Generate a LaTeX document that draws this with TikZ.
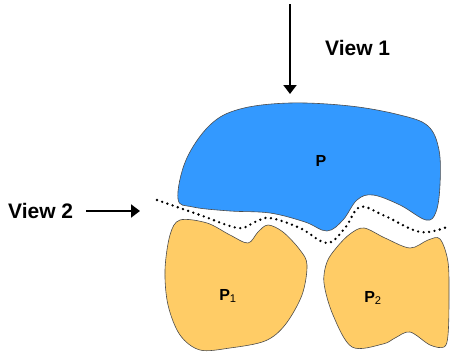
\documentclass[tikz,border=0pt]{standalone}
\usepackage{fontspec}
\usetikzlibrary{arrows.meta}
\setmainfont{Liberation Sans}
\begin{document}
\begin{tikzpicture}[x=1pt,y=-1pt,
  shapeline/.style={draw=black!70,line width=0.6pt},
  lbl/.style={font=\bfseries\fontsize{16}{18}\selectfont,inner sep=0pt},
  viewlbl/.style={font=\bfseries\fontsize{21}{24}\selectfont,inner sep=0pt},
  viewarrow/.style={-{Triangle[width=13pt,length=9pt]},line width=2pt},
  dotline/.style={line width=2.6pt,line cap=round,dash pattern=on 0pt off 5.5pt}]
\useasboundingbox (0,0) rectangle (451,356);
% blue P
\draw[shapeline,fill={rgb,255:red,51;green,153;blue,255}]
  plot[smooth cycle,tension=0.6] coordinates {
  (178,199) (186,160) (210,125) (240,109) (290,103) (350,106) (400,115) (428,126)
  (439,150) (440,185) (436,212) (426,220) (400,205) (373,195) (357,200)
  (343,220) (327,231) (305,222) (270,213) (230,211) (193,207)};
% orange P1
\draw[shapeline,fill={rgb,255:red,255;green,204;blue,102}]
  plot[smooth cycle,tension=0.55] coordinates {
  (180,220) (207,223) (230,235) (248,243) (258,232) (268,225) (283,232)
  (300,250) (307,265) (302,295) (285,325) (265,341) (230,348) (200,350) (180,335)
  (168,305) (165,270) (170,235)};
% orange P2
\draw[shapeline,fill={rgb,255:red,255;green,204;blue,102}]
  plot[smooth cycle,tension=0.55] coordinates {
  (337,247) (350,234) (364,228) (385,238) (410,248) (428,240) (440,239)
  (448,262) (449,300) (448,335) (444,347) (430,345) (410,332) (395,338)
  (383,344) (352,347) (333,315) (324,283) (327,262)};
% dotted line
\draw[dotline] plot[smooth,tension=0.6] coordinates {
  (157,200) (200,215) (238,228) (255,222) (270,218) (300,228) (327,243)
  (345,228) (360,207) (385,216) (420,232) (447,227)};
% labels
\node[lbl] (P) at (321,161) {P};
\node[lbl] (P1) at (228,296) {P\textsubscript{\mdseries 1}};
\node[lbl] (P2) at (373,298) {P\textsubscript{\mdseries 2}};
\node[viewlbl,anchor=west] (v1) at (325,48) {View 1};
\node[viewlbl,anchor=west] (v2) at (8,211) {View 2};
\coordinate (a1s) at (290,4);
\coordinate (a1e) at (290,94);
\coordinate (a2s) at (86,211);
\coordinate (a2e) at (140,211);
\draw[viewarrow] (a1s) -- (a1e);
\draw[viewarrow] (a2s) -- (a2e);
\end{tikzpicture}
\end{document}
